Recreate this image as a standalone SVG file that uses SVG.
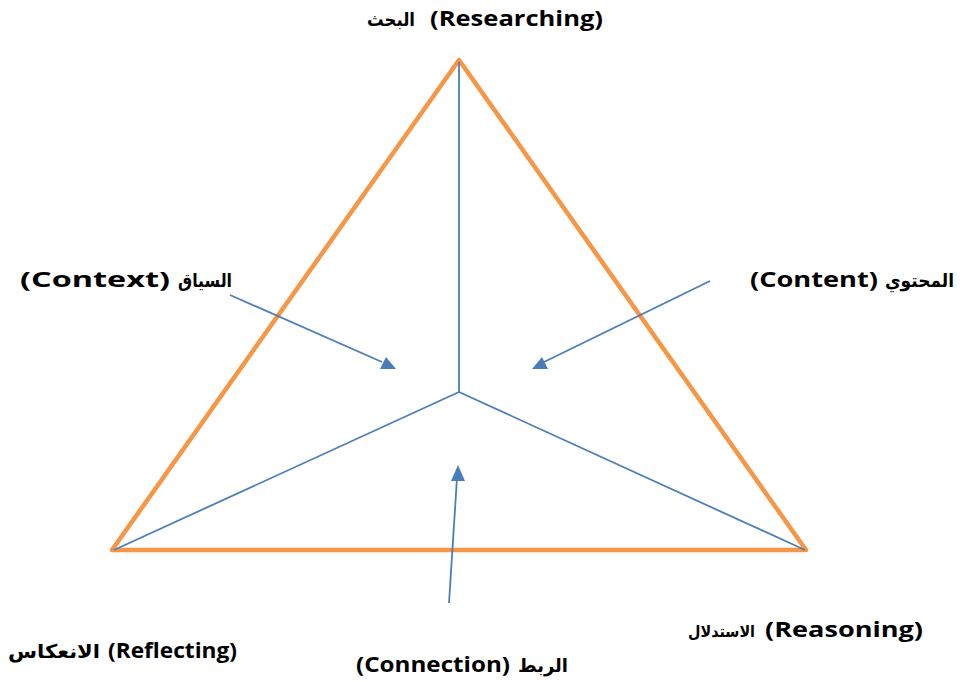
<svg xmlns="http://www.w3.org/2000/svg" width="966" height="682" viewBox="0 0 966 682">
<style>
.lbl{font-family:"Open Sans","Liberation Sans",sans-serif;font-weight:bold;font-size:22px;fill:#000}
.ar{font-family:"DejaVu Sans","Noto Sans",sans-serif;font-weight:bold;font-size:19px;fill:#000}
.tri{fill:none;stroke:#F79646;stroke-width:4.5;stroke-linejoin:round}
.ln{stroke:#4A7EBB;stroke-width:1.8;fill:none}
</style>
<rect width="966" height="682" fill="#fff"/>
<g id="triangle">
<polygon class="tri" points="459,60 112,550 806,550"/>
</g>
<g id="connectors">
<line class="ln" x1="459" y1="62" x2="459" y2="392"/>
<line class="ln" x1="459" y1="392" x2="114" y2="550"/>
<line class="ln" x1="459" y1="392" x2="805" y2="550"/>
<line class="ln" x1="230" y1="295" x2="382" y2="362"/>
<polygon points="396,369 380,369 386,357" fill="#4A7EBB"/>
<line class="ln" x1="710" y1="281" x2="544" y2="362"/>
<polygon points="532,369 548,369 542,357" fill="#4A7EBB"/>
<line class="ln" x1="449" y1="603" x2="457" y2="478"/>
<polygon points="458,465 451,481 465,481" fill="#4A7EBB"/>
</g>
<g id="node-researching">
<text class="ar" x="367" y="26" textLength="48" lengthAdjust="spacingAndGlyphs">البحث</text>
<text class="lbl" x="430" y="26" textLength="173" lengthAdjust="spacingAndGlyphs">(Researching)</text>
</g>
<g id="node-context">
<text class="lbl" x="20" y="287" textLength="150" lengthAdjust="spacingAndGlyphs">(Context)</text>
<text class="ar" x="178" y="287" textLength="54" lengthAdjust="spacingAndGlyphs">السياق</text>
</g>
<g id="node-content">
<text class="lbl" x="750" y="287" textLength="128" lengthAdjust="spacingAndGlyphs">(Content)</text>
<text class="ar" x="885" y="287" textLength="69" lengthAdjust="spacingAndGlyphs">المحتوي</text>
</g>
<g id="node-reflecting">
<text class="ar" x="8" y="658" textLength="92" lengthAdjust="spacingAndGlyphs">الانعكاس</text>
<text class="lbl" x="108" y="658" textLength="129" lengthAdjust="spacingAndGlyphs">(Reflecting)</text>
</g>
<g id="node-connection">
<text class="lbl" x="356" y="672" textLength="154" lengthAdjust="spacingAndGlyphs">(Connection)</text>
<text class="ar" x="518" y="672" textLength="50" lengthAdjust="spacingAndGlyphs">الربط</text>
</g>
<g id="node-reasoning">
<text class="ar" x="688" y="637" style="font-size:16px" textLength="67" lengthAdjust="spacingAndGlyphs">الاستدلال</text>
<text class="lbl" x="765" y="637" textLength="158" lengthAdjust="spacingAndGlyphs">(Reasoning)</text>
</g>
</svg>
